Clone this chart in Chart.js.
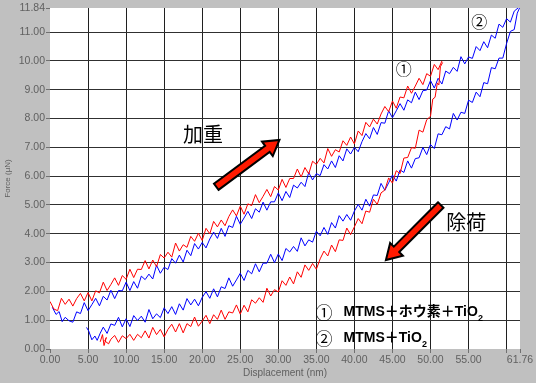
<!DOCTYPE html>
<html><head><meta charset="utf-8">
<script src="https://cdn.jsdelivr.net/npm/chart.js@4"></script>
<style>
html,body{margin:0;padding:0;background:#c0c0c0;}
#wrap{width:536px;height:383px;position:relative;}
</style></head><body>
<div id="wrap"><canvas id="c"></canvas></div>
<script>
// ---- tick labels ----
const xTicks = [0,5,10,15,20,25,30,35,40,45,50,55,60,61.76];
const yTicks = [0,1,2,3,4,5,6,7,8,9,10,11,11.84];
const xTitle = 'Displacement (nm)';
const yTitle = 'Force (µN)';

// ---- series: [displacement nm, force µN] ----
const redLoading = [[0.0,1.65],[0.5,1.39],[1.0,1.33],[1.5,1.76],[2.0,1.55],[2.5,1.73],[3.0,1.49],[3.5,1.75],[4.0,1.93],[4.5,1.67],[5.0,1.96],[5.5,1.67],[6.0,2.02],[6.5,1.95],[7.0,2.32],[7.5,2.03],[8.0,2.24],[8.5,2.47],[9.0,2.21],[9.5,2.55],[10.0,2.42],[10.5,2.77],[11.0,2.48],[11.5,2.77],[12.0,2.76],[12.5,3.07],[13.0,2.78],[13.5,3.09],[14.0,2.86],[14.5,3.28],[15.0,3.16],[15.5,3.36],[16.0,3.19],[16.5,3.68],[17.0,3.40],[17.5,3.62],[18.0,3.53],[18.5,3.91],[19.0,3.74],[19.5,4.02],[20.0,3.77],[20.5,4.19],[21.0,4.00],[21.5,4.43],[22.0,4.24],[22.5,4.48],[23.0,4.28],[23.5,4.60],[24.0,4.83],[24.5,4.62],[25.0,4.96],[25.5,4.68],[26.0,5.04],[26.5,4.98],[27.0,5.36],[27.5,5.08],[28.0,5.30],[28.5,5.54],[29.0,5.29],[29.5,5.64],[30.0,5.52],[30.5,5.89],[31.0,5.61],[31.5,5.92],[32.0,5.92],[32.5,6.25],[33.0,5.97],[33.5,6.30],[34.0,6.08],[34.5,6.52],[35.0,6.41],[35.5,6.62],[36.0,6.46],[36.5,6.96],[37.0,6.69],[37.5,6.92],[38.0,6.84],[38.5,7.23],[39.0,7.07],[39.5,7.36],[40.0,7.12],[40.5,7.57],[41.0,7.41],[41.5,7.87],[42.0,7.71],[42.5,7.98],[43.0,7.81],[43.5,8.16],[44.0,8.42],[44.5,8.24],[45.0,8.61],[45.5,8.36],[46.0,8.75],[46.5,8.72],[47.0,9.13],[47.5,8.88],[48.0,9.13],[48.5,9.40],[49.0,9.18],[49.5,9.56],[50.0,9.47],[50.5,9.88],[51.0,9.70],[51.5,10.00]];

const redUnloading = [[6.6,0.25],[6.9,0.50],[7.1,0.12],[7.4,0.40],[7.2,0.28],[7.7,0.18],[8.0,0.34],[8.5,0.47],[9.0,0.23],[9.5,0.46],[10.0,0.36],[10.5,0.51],[11.0,0.30],[11.5,0.51],[12.0,0.39],[12.5,0.63],[13.0,0.38],[13.5,0.75],[14.0,0.50],[14.5,0.68],[15.0,0.42],[15.5,0.68],[16.0,0.86],[16.5,0.59],[17.0,0.88],[17.5,0.56],[18.0,0.88],[18.5,0.78],[19.0,1.11],[19.5,0.79],[20.0,0.97],[20.5,1.17],[21.0,0.88],[21.5,1.19],[22.0,1.03],[22.5,1.35],[23.0,1.03],[23.5,1.29],[24.0,1.25],[24.5,1.53],[25.0,1.21],[25.5,1.52],[26.0,1.29],[26.5,1.71],[27.0,1.59],[27.5,1.78],[28.0,1.62],[28.5,2.11],[29.0,1.84],[29.5,2.06],[30.0,1.98],[30.5,2.37],[31.0,2.21],[31.5,2.50],[32.0,2.26],[32.5,2.68],[33.0,2.49],[33.5,2.92],[34.0,2.73],[34.5,2.97],[35.0,2.77],[35.5,3.13],[36.0,3.40],[36.5,3.23],[37.0,3.61],[37.5,3.38],[38.0,3.79],[38.5,3.77],[39.0,4.20],[39.5,3.97],[40.0,4.24],[40.5,4.53],[41.0,4.35],[41.5,4.79],[42.0,4.75],[42.5,5.20],[43.0,5.02],[43.5,5.42],[44.0,5.52],[44.5,5.94],[45.0,5.76],[45.5,6.19],[46.0,6.09],[46.5,6.63],[47.0,6.65],[47.5,6.99],[48.0,6.97],[48.5,7.60],[49.0,7.53],[49.5,7.96],[50.0,8.08],[50.3,8.68],[50.6,8.74],[50.9,9.24],[51.1,9.17],[51.3,9.80],[51.6,9.95]];

const blueLoading = [[0.3,1.45],[0.8,1.20],[1.2,1.30],[1.6,0.95],[2.0,1.10],[2.5,0.98],[3.0,0.93],[3.5,1.29],[4.0,1.23],[4.5,1.61],[5.0,1.33],[5.5,1.54],[6.0,1.76],[6.5,1.50],[7.0,1.83],[7.5,1.70],[8.0,2.04],[8.5,1.75],[9.0,2.03],[9.5,2.02],[10.0,2.32],[10.5,2.03],[11.0,2.34],[11.5,2.11],[12.0,2.53],[12.5,2.41],[13.0,2.60],[13.5,2.43],[14.0,2.91],[14.5,2.63],[15.0,2.84],[15.5,2.76],[16.0,3.14],[16.5,2.98],[17.0,3.26],[17.5,3.02],[18.0,3.43],[18.5,3.24],[19.0,3.66],[19.5,3.47],[20.0,3.70],[20.5,3.51],[21.0,3.82],[21.5,4.06],[22.0,3.84],[22.5,4.19],[23.0,3.91],[23.5,4.28],[24.0,4.22],[24.5,4.61],[25.0,4.33],[25.5,4.55],[26.0,4.78],[26.5,4.53],[27.0,4.87],[27.5,4.75],[28.0,5.10],[28.5,4.82],[29.0,5.11],[29.5,5.11],[30.0,5.42],[30.5,5.15],[31.0,5.47],[31.5,5.26],[32.0,5.69],[32.5,5.59],[33.0,5.79],[33.5,5.64],[34.0,6.13],[34.5,5.87],[35.0,6.09],[35.5,6.02],[36.0,6.40],[36.5,6.25],[37.0,6.53],[37.5,6.30],[38.0,6.71],[38.5,6.53],[39.0,6.95],[39.5,6.77],[40.0,7.00],[40.5,6.85],[41.0,7.20],[41.5,7.48],[42.0,7.30],[42.5,7.69],[43.0,7.45],[43.5,7.86],[44.0,7.84],[44.5,8.27],[45.0,8.03],[45.5,8.27],[46.0,8.52],[46.5,8.29],[47.0,8.65],[47.5,8.55],[48.0,8.92],[48.5,8.66],[49.0,8.97],[49.5,8.99],[50.0,9.32],[50.5,9.06],[51.0,9.40],[51.5,9.20],[52.0,9.65],[52.5,9.56],[53.0,9.78],[53.5,9.64],[54.0,10.15],[54.5,9.90],[55.0,10.14],[55.5,10.09],[56.0,10.50],[56.5,10.36],[57.0,10.67],[57.5,10.46],[58.0,10.90],[58.5,10.79],[59.0,11.28],[59.5,11.17],[60.0,11.47],[60.5,11.35],[61.0,11.73],[61.5,11.84]];

const blueUnloading = [[4.8,0.75],[5.1,0.62],[5.5,0.32],[5.9,0.45],[6.2,0.30],[6.6,0.55],[7.0,0.76],[7.5,0.54],[8.0,0.87],[8.5,0.82],[9.0,1.10],[9.5,0.77],[10.0,1.05],[10.5,0.78],[11.0,1.16],[11.5,0.99],[12.0,1.14],[12.5,0.93],[13.0,1.37],[13.5,1.05],[14.0,1.22],[14.5,1.09],[15.0,1.43],[15.5,1.23],[16.0,1.47],[16.5,1.20],[17.0,1.57],[17.5,1.35],[18.0,1.75],[18.5,1.53],[19.0,1.73],[19.5,1.50],[20.0,1.79],[20.5,1.99],[21.0,1.76],[21.5,2.09],[22.0,1.81],[22.5,2.16],[23.0,2.10],[23.5,2.47],[24.0,2.18],[24.5,2.40],[25.0,2.63],[25.5,2.38],[26.0,2.73],[26.5,2.61],[27.0,2.96],[27.5,2.68],[28.0,2.98],[28.5,2.98],[29.0,3.29],[29.5,3.00],[30.0,3.30],[30.5,3.07],[31.0,3.49],[31.5,3.37],[32.0,3.56],[32.5,3.39],[33.0,3.86],[33.5,3.58],[34.0,3.79],[34.5,3.71],[35.0,4.09],[35.5,3.93],[36.0,4.22],[36.5,3.98],[37.0,4.39],[37.5,4.20],[38.0,4.63],[38.5,4.44],[39.0,4.67],[39.5,4.47],[40.0,4.79],[40.5,5.02],[41.0,4.82],[41.5,5.20],[42.0,4.96],[42.5,5.35],[43.0,5.33],[43.5,5.75],[44.0,5.51],[44.5,5.77],[45.0,6.04],[45.5,5.83],[46.0,6.22],[46.5,6.13],[47.0,6.53],[47.5,6.28],[48.0,6.61],[48.5,6.64],[49.0,7.00],[49.5,6.75],[50.0,7.10],[50.5,6.96],[51.0,7.47],[51.5,7.44],[52.0,7.72],[52.5,7.64],[53.0,8.18],[53.5,7.95],[54.0,8.22],[54.5,8.18],[55.0,8.64],[55.5,8.56],[56.0,8.92],[56.5,8.76],[57.0,9.25],[57.5,9.21],[58.0,9.77],[58.5,9.73],[59.0,10.10],[59.5,10.10],[60.0,10.61],[60.5,11.03],[61.0,11.09],[61.4,11.66],[61.7,11.84]];

// ---- annotation texts ----
const loadText = '加重';
const unloadText = '除荷';
const mark1 = '①';
const mark2 = '②';
const legend1 = ['①', 'MTMS＋ホウ素＋TiO', '2'];
const legend2 = ['②', 'MTMS＋TiO', '2'];

const toXY = a => a.map(p => ({x:p[0], y:p[1]}));

const overlay = {
  id:'overlay',
  beforeDraw(chart){
    const {ctx, chartArea:a} = chart;
    ctx.save(); ctx.fillStyle='#ffffff';
    ctx.fillRect(a.left, a.top, a.right-a.left, a.bottom-a.top);
    ctx.restore();
  },
  afterDatasetsDraw(chart){
    const ctx = chart.ctx, xs = chart.scales.x, ys = chart.scales.y;
    const P = (x,y) => [xs.getPixelForValue(x), ys.getPixelForValue(y)];
    function arrow(x0,y0,x1,y1){
      const [ax,ay]=P(x0,y0), [bx,by]=P(x1,y1);
      const dx=bx-ax, dy=by-ay, L=Math.hypot(dx,dy), ux=dx/L, uy=dy/L, nx=-uy, ny=ux;
      const hw=3.8, hl=15, hh=9;
      const sx=bx-ux*hl, sy=by-uy*hl;
      const pts=[[ax+nx*hw,ay+ny*hw],[sx+nx*hw,sy+ny*hw],[sx+nx*hh,sy+ny*hh],[bx,by],[sx-nx*hh,sy-ny*hh],[sx-nx*hw,sy-ny*hw],[ax-nx*hw,ay-ny*hw]];
      ctx.save(); ctx.beginPath();
      pts.forEach((p,i)=> i?ctx.lineTo(p[0],p[1]):ctx.moveTo(p[0],p[1]));
      ctx.closePath(); ctx.fillStyle='#ff1a00'; ctx.fill();
      ctx.lineWidth=2; ctx.strokeStyle='#000'; ctx.lineJoin='miter'; ctx.stroke(); ctx.restore();
    }
    arrow(21.85,5.63,30.15,7.26);
    arrow(51.35,5.0,44.14,3.09);
    ctx.save();
    ctx.fillStyle='#000'; ctx.textBaseline='middle'; ctx.textAlign='center';
    ctx.font='20px "Noto Sans CJK JP"';
    let p=P(20.1,7.45); ctx.fillText(loadText,p[0],p[1]);
    p=P(54.7,4.41); ctx.fillText(unloadText,p[0],p[1]);
    ctx.font='16px "Noto Sans CJK JP"';
    p=P(46.5,9.72); ctx.fillText(mark1,p[0],p[1]);
    p=P(56.4,11.34); ctx.fillText(mark2,p[0],p[1]);
    ctx.textAlign='left';
    function leg(parts, x, y){
      const q=P(x,y); let cx=q[0];
      ctx.font='17px "Noto Sans CJK JP"'; ctx.fillText(parts[0],cx,q[1]);
      cx+=ctx.measureText(parts[0]).width+11;
      ctx.font='bold 14px "Liberation Sans","Noto Sans CJK JP"'; ctx.fillText(parts[1],cx,q[1]);
      cx+=ctx.measureText(parts[1]).width;
      ctx.font='bold 9px "Liberation Sans"'; ctx.fillText(parts[2],cx,q[1]+6);
    }
    leg(legend1, 34.9, 1.28);
    leg(legend2, 34.9, 0.37);
    ctx.restore();
  }
};

const tickFont = {family:'"Liberation Sans", Arial, sans-serif', size:10.5};
new Chart(document.getElementById('c'), {
  type:'scatter',
  data:{datasets:[
    {data:toXY(redLoading), borderColor:'#ff0000'},
    {data:toXY(redUnloading), borderColor:'#ff0000'},
    {data:toXY(blueLoading), borderColor:'#0000ff'},
    {data:toXY(blueUnloading), borderColor:'#0000ff'}
  ].map(d=>Object.assign(d,{showLine:true, pointRadius:0, borderWidth:1, tension:0, fill:false}))},
  options:{
    responsive:true, maintainAspectRatio:false, animation:false,
    layout:{padding:{top:8,right:16,left:0,bottom:0}},
    plugins:{legend:{display:false}, tooltip:{enabled:false}},
    scales:{
      x:{type:'linear', min:0, max:61.76,
        afterBuildTicks:s=>{s.ticks=xTicks.map(v=>({value:v}));},
        afterFit:s=>{s.height=34;},
        ticks:{autoSkip:false, maxRotation:0, padding:1, color:'#606060', font:tickFont,
          callback:v=> v===60 ? '' : Number(v).toFixed(2)},
        grid:{color:c=> (c.tick && (c.tick.value===0||c.tick.value===61.76)) ? 'rgba(0,0,0,0)' : '#202020',
          tickColor:'#707070', tickLength:4, lineWidth:1},
        border:{display:false},
        title:{display:true, text:xTitle, color:'#606060', font:{family:'"Liberation Sans", Arial', size:10}, padding:{top:0,bottom:4}}
      },
      y:{type:'linear', min:0, max:11.84,
        afterBuildTicks:s=>{s.ticks=yTicks.map(v=>({value:v}));},
        afterFit:s=>{s.width=50;},
        ticks:{autoSkip:false, padding:1, color:'#606060', font:tickFont,
          callback:v=>Number(v).toFixed(2)},
        grid:{color:c=> (c.tick && (c.tick.value===0||c.tick.value===11.84)) ? 'rgba(0,0,0,0)' : '#303030',
          tickColor:'#707070', tickLength:4, lineWidth:1},
        border:{display:false},
        title:{display:true, text:yTitle, color:'#606060', font:{family:'"Liberation Sans", Arial', size:8}, padding:{top:3,bottom:0}}
      }
    }
  },
  plugins:[overlay]
});
</script>
</body></html>
